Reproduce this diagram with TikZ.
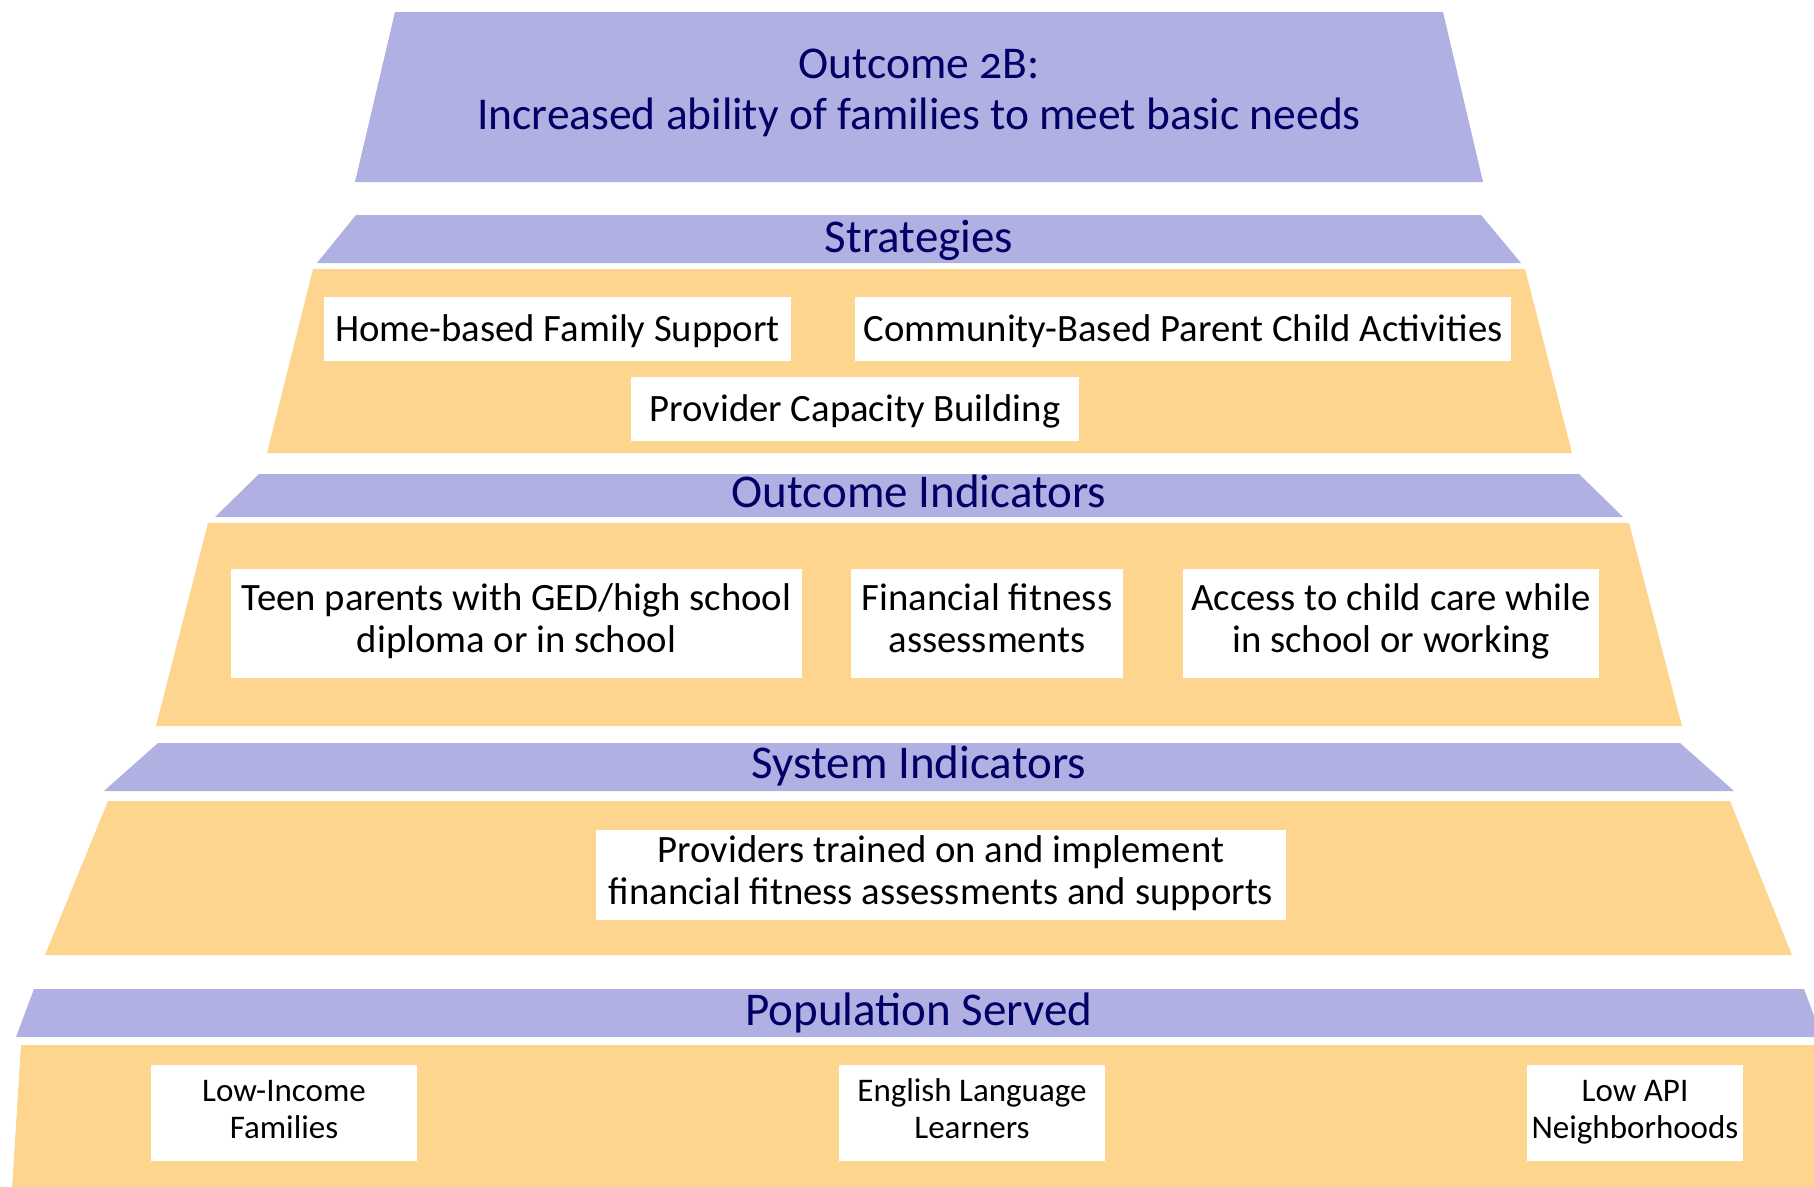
\documentclass[tikz,border=0pt]{standalone}
\usepackage{fontspec}
\setmainfont{Carlito}[Numbers=OldStyle]
\definecolor{hdrcol}{RGB}{176,176,227}
\definecolor{bodycol}{RGB}{253,213,142}
\definecolor{navy}{RGB}{0,0,102}
\tikzset{
  hdr/.style={fill=hdrcol},
  bodyband/.style={fill=bodycol},
  htext/.style={text=navy, font=\fontsize{47}{52}\selectfont, anchor=base, inner sep=0},
  ttext/.style={text=navy, font=\fontsize{45.5}{52}\selectfont, anchor=base, inner sep=0},
  wbox/.style={fill=white, rectangle, inner sep=0, align=center, text=black,
    font=\fontsize{38.7}{42}\selectfont},
  pbox/.style={fill=white, rectangle, inner sep=0, align=center, text=black,
    font=\fontsize{33}{37}\selectfont},
}
\begin{document}
\begin{tikzpicture}[x=1pt,y=-1pt]
\useasboundingbox (0,0) rectangle (1814,1186);
\clip (0,0) rectangle (1814,1186);
% bands
\path[hdr] (395,12) -- (1443,12) -- (1483,182) -- (355,182) -- cycle;
\path[hdr] (356,215) -- (1481,215) -- (1521,263) -- (317,263) -- cycle;
\path[bodyband] (313,269) -- (1525,269) -- (1572,453) -- (267,453) -- cycle;
\path[hdr] (259,474) -- (1579,474) -- (1623,517) -- (215,517) -- cycle;
\path[bodyband] (208,523) -- (1629,523) -- (1682,726) -- (156,726) -- cycle;
\path[hdr] (158,743) -- (1680,743) -- (1734,791) -- (104,791) -- cycle;
\path[bodyband] (108,801) -- (1730,801) -- (1792,955) -- (45,955) -- cycle;
\path[hdr] (34,989) -- (1804,989) -- (1822,1037) -- (16,1037) -- cycle;
\path[bodyband] (21,1045) -- (1817,1045) -- (1825,1190) -- (12,1190) -- cycle;
% titles
\node[ttext] (t1) at (919,78) {Outcome 2B:};
\node[ttext] (t2) at (919,129) {Increased ability of families to meet basic needs};
\node[htext] (hs) at (919,252) {Strategies};
\node[htext] (ho) at (919,507) {Outcome Indicators};
\node[htext] (hy) at (919,778) {System Indicators};
\node[htext] (hp) at (919,1025) {Population Served};
% strategy boxes
\node[wbox, minimum width=467, minimum height=64, text height=30, text depth=6] (s1) at (557.5,329) {Home-based Family Support};
\node[wbox, minimum width=656, minimum height=64, text height=30, text depth=6] (s2) at (1183,329) {Community-Based Parent Child Activities};
\node[wbox, minimum width=448, minimum height=64, text height=30, text depth=6] (s3) at (855,409) {Provider Capacity Building};
% outcome indicator boxes
\node[wbox, minimum width=571, minimum height=109] (o1) at (516.5,623.5) {\strut Teen parents with GED/high school\\diploma or in school\strut};
\node[wbox, minimum width=272, minimum height=109] (o2) at (987,623.5) {\strut Financial fitness\\assessments\strut};
\node[wbox, minimum width=416, minimum height=109] (o3) at (1391,623.5) {\strut Access to child care while\\in school or working\strut};
% system indicator box
\node[wbox, minimum width=690, minimum height=90] (y1) at (941,875) {\strut Providers trained on and implement\\financial fitness assessments and supports\strut};
% population boxes
\node[pbox, minimum width=266, minimum height=96] (p1) at (284,1113) {\strut Low-Income\\Families\strut};
\node[pbox, minimum width=266, minimum height=96] (p2) at (972,1113) {\strut English Language\\Learners\strut};
\node[pbox, minimum width=216, minimum height=96] (p3) at (1635,1113) {\strut Low API\\Neighborhoods\strut};
\end{tikzpicture}
\end{document}
